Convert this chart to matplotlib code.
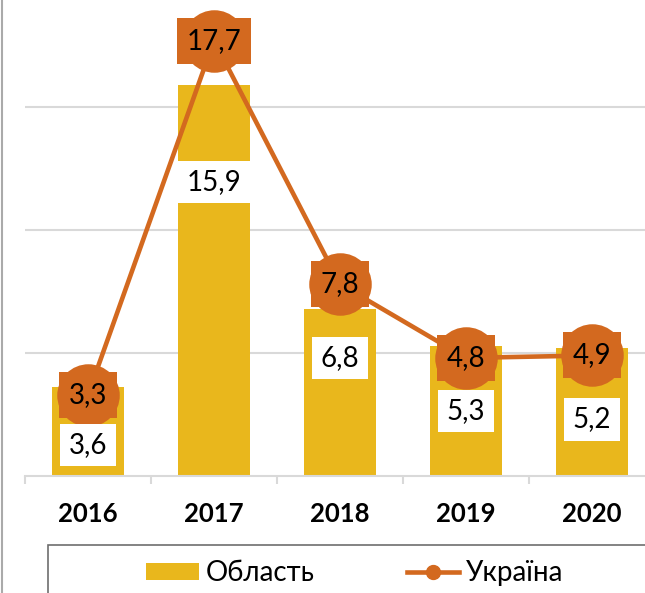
import matplotlib
matplotlib.use("Agg")
import matplotlib.pyplot as plt
from matplotlib.patches import Rectangle, Patch
from matplotlib.lines import Line2D

plt.rcParams['font.family'] = ['Lato', 'DejaVu Sans']

years = ['2016', '2017', '2018', '2019', '2020']
oblast = [3.6, 15.9, 6.8, 5.3, 5.2]
ukraine = [3.3, 17.7, 7.8, 4.8, 4.9]
oblast_labels = ['3,6', '15,9', '6,8', '5,3', '5,2']
ukraine_labels = ['3,3', '17,7', '7,8', '4,8', '4,9']
# label placement (data y) for the bar value boxes
bar_label_y = [1.26, 11.95, 4.8, 2.64, 2.3]

BAR_C = '#E9B71C'
LINE_C = '#D3691F'
GRID_C = '#D9D9D9'

W, H = 645, 593
fig = plt.figure(figsize=(W / 100, H / 100), dpi=100)
ax = fig.add_axes([25 / W, (H - 476) / H, 630 / W, 476 / H])
ax.set_xlim(-0.5, 4.5)
ax.set_ylim(0, 476 / 24.6)

x = list(range(len(years)))
ax.bar(x, oblast, width=0.57, color=BAR_C, zorder=2)
ax.plot(x, ukraine, color=LINE_C, lw=3.3, marker='o', markersize=45,
        markeredgewidth=0, zorder=3)

for xi, yv, lab in zip(x, bar_label_y, oblast_labels):
    ax.text(xi, yv, lab, ha='center', va='center', fontsize=20, color='black',
            zorder=5, bbox=dict(boxstyle='square,pad=0.3', fc='white', ec='none'))
for xi, yv, lab in zip(x, ukraine, ukraine_labels):
    ax.text(xi, yv, lab, ha='center', va='center', fontsize=20, color='black',
            zorder=6, bbox=dict(boxstyle='square,pad=0.36', fc=LINE_C, ec='none'))

ax.set_yticks([5, 10, 15])
ax.yaxis.grid(True, color=GRID_C, lw=1.5, zorder=0)
ax.set_axisbelow(True)
ax.tick_params(axis='y', left=False, labelleft=False)
for s in ['top', 'right', 'left']:
    ax.spines[s].set_visible(False)
ax.spines['bottom'].set_color(GRID_C)
ax.spines['bottom'].set_linewidth(1.5)

ax.set_xticks(x)
ax.set_xticklabels(years, fontsize=18.5, fontweight='bold')
ax.set_xticks([i - 0.5 for i in range(len(years) + 1)], minor=True)
ax.tick_params(axis='x', which='major', length=0, pad=18.5)
ax.tick_params(axis='x', which='minor', length=6, width=1.5, color=GRID_C)
ax.set_facecolor('none')

# outer chart border (left)
fig.add_artist(Line2D([2 / W, 2 / W], [0, 1], transform=fig.transFigure,
                      color='#AAAAAA', lw=1.5))

# legend frame
fig.add_artist(Rectangle((48 / W, -0.2), 1.0, 0.2 + (H - 545) / H,
                         transform=fig.transFigure, fill=False,
                         ec='#6E6E6E', lw=1.2))

handles = [Patch(facecolor=BAR_C, edgecolor='none'),
           Line2D([], [], color=LINE_C, lw=3.3, marker='o', markersize=10)]
fig.legend(handles, ['Область', 'Україна'], loc='center',
           bbox_to_anchor=(355 / W, 1 - 573 / H), ncol=2, frameon=False,
           fontsize=20, handlelength=1.9, handleheight=0.55,
           handletextpad=0.25, columnspacing=3.3)

fig.savefig('out.png', dpi=100)
